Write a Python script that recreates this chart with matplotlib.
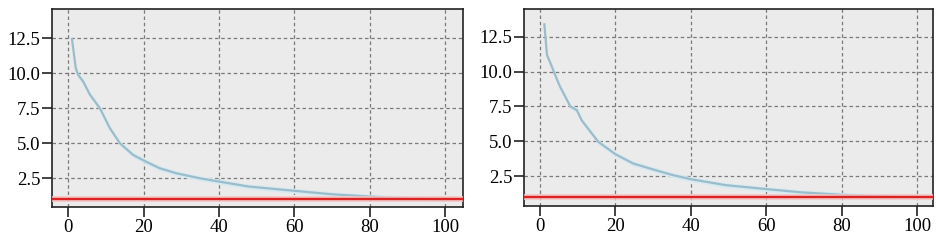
import matplotlib.pyplot as plt
import numpy as np

# left panel curve
x_left = [1, 2, 2.6, 4, 5.7, 8.4, 11, 13.7, 17.2, 20, 24.2, 28.6, 34.8, 40,
          48, 60, 70, 80, 88, 94, 100]
y_left = [12.45, 10.37, 9.9, 9.4, 8.5, 7.5, 6.1, 5.0, 4.17, 3.77, 3.22, 2.86,
          2.5, 2.26, 1.9, 1.6, 1.35, 1.19, 1.07, 1.02, 1.0]

# right panel curve
x_right = [1.2, 1.9, 3.2, 4.6, 5.4, 8.1, 9.8, 11.1, 15.5, 20, 24.7, 30, 35.3,
           40, 49.3, 60, 69.5, 80, 90, 95, 100]
y_right = [13.4, 11.2, 10.35, 9.4, 8.9, 7.5, 7.24, 6.5, 4.96, 4.08, 3.41, 2.98,
           2.57, 2.28, 1.85, 1.57, 1.33, 1.16, 1.04, 1.01, 1.0]

ref_level = 1.0
x_ticks = [0, 20, 40, 60, 80, 100]
y_ticks = [2.5, 5.0, 7.5, 10.0, 12.5]

plt.rcParams['font.family'] = ['Liberation Serif', 'DejaVu Serif']

fig = plt.figure(figsize=(9.37, 2.41), dpi=100)
fig.patch.set_facecolor('#ffffff')

panels = [
    ([0.0555, 0.141, 0.4386, 0.8216], x_left, y_left, (-4.3, 104.7), (0.44, 14.6)),
    ([0.5596, 0.145, 0.4362, 0.8170], x_right, y_right, (-4.1, 104.2), (0.35, 14.49)),
]

for rect, xs, ys, xl, yl in panels:
    ax = fig.add_axes(rect)
    ax.set_facecolor('#ebebeb')
    xs = np.array(xs)
    ys = np.array(ys)

    # grid
    ax.grid(True, color='#7a7a7a', linestyle=(0, (2.8, 2.2)), linewidth=0.9)
    ax.set_axisbelow(True)

    # curve with light band
    ax.fill_between(xs, ys - 0.18, ys + 0.18, color='#d6eaf2', lw=0, zorder=2)
    ax.plot(xs, ys, color='#9bbdcb', linewidth=1.6, zorder=3)

    # reference line with halo
    ax.axhspan(ref_level - 0.2, ref_level + 0.2, color='#f6c4c4', alpha=0.8,
               lw=0, zorder=4)
    ax.axhline(ref_level, color='#dd2222', linewidth=1.7, zorder=5)

    ax.set_xlim(*xl)
    ax.set_ylim(*yl)
    ax.set_xticks(x_ticks)
    ax.set_yticks(y_ticks)
    ax.set_yticklabels([f"{v:.1f}" for v in y_ticks])

    for s in ax.spines.values():
        s.set_color('#222222')
        s.set_linewidth(1.2)
    ax.tick_params(direction='out', length=7, width=1.2, color='#222222',
                   labelsize=13.5, pad=1.5)

fig.savefig("out.png", dpi=100)
